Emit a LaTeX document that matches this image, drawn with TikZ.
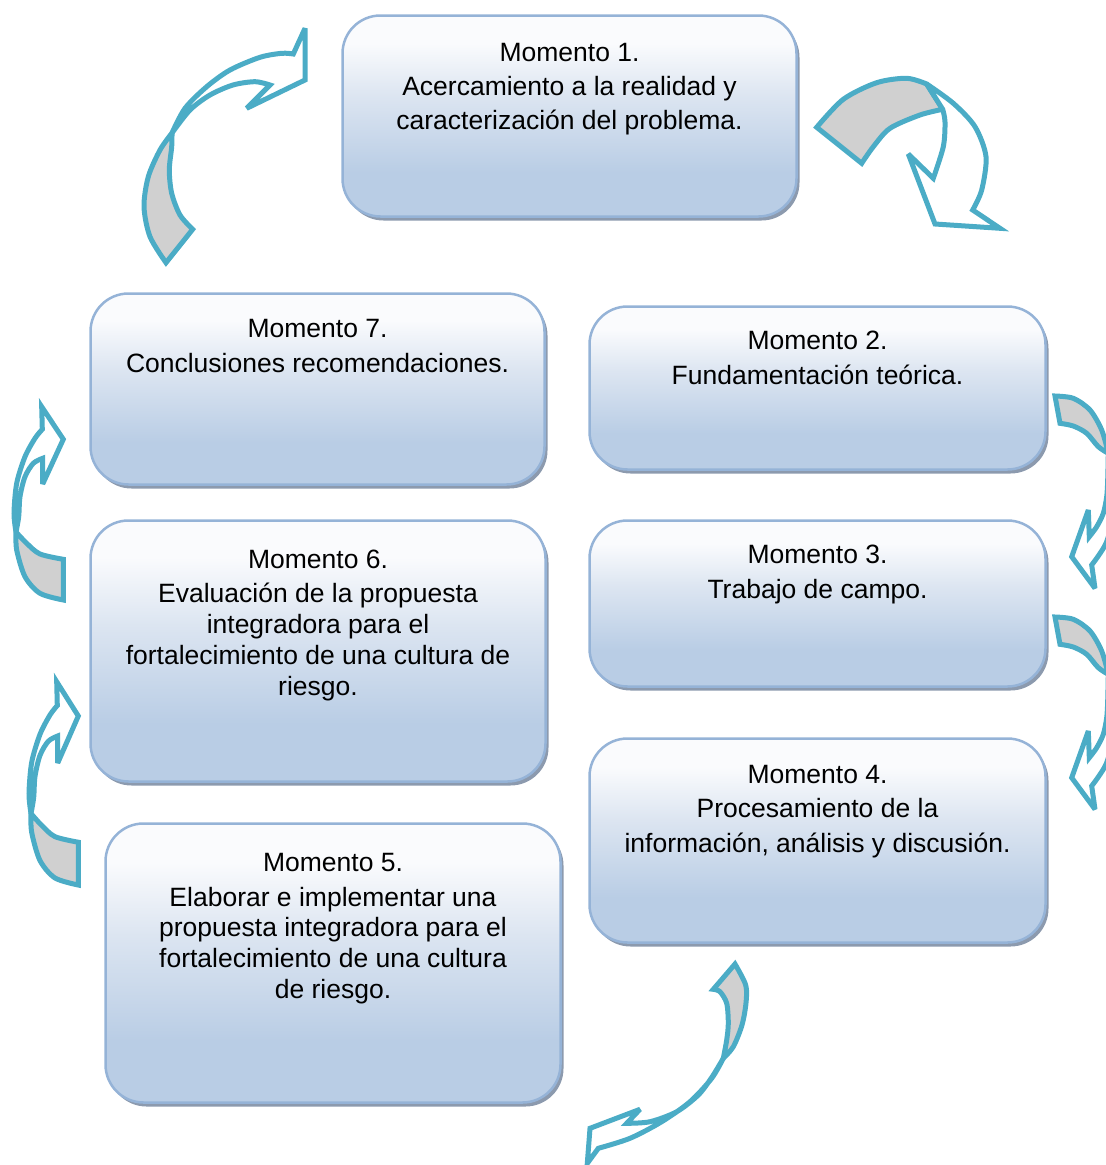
\documentclass[tikz,border=0pt]{standalone}
\usepackage{fontspec}
\setmainfont{Liberation Sans}
\usetikzlibrary{shadows}
\definecolor{arrowc}{HTML}{4BACC6}
\definecolor{grayc}{HTML}{D0D0D0}
\definecolor{boxborder}{HTML}{95B3D7}
\definecolor{boxtop}{HTML}{FAFBFD}
\definecolor{boxmid}{HTML}{DCE5F1}
\definecolor{boxbot}{HTML}{B9CDE5}
\definecolor{shadowc}{HTML}{8C9AAE}
\pgfdeclareverticalshading{boxshade}{100bp}{color(0bp)=(boxbot); color(25bp)=(boxbot); color(36bp)=(boxbot); color(55bp)=(boxmid); color(68bp)=(boxtop); color(100bp)=(boxtop)}
\tikzset{
  momentbox/.style={rounded corners=38pt, draw=boxborder, line width=2.5pt, shade, shading=boxshade,
    drop shadow={shadow xshift=3pt, shadow yshift=-4pt, fill=shadowc, opacity=1}, inner sep=0pt},
  momenttext/.style={align=center, inner sep=0pt, anchor=north, text=black,
    font=\fontsize{26.5pt}{30.7pt}\selectfont},
  ribbon/.style={draw=arrowc, line width=5pt, line join=miter, miter limit=4},
  backside/.style={ribbon, fill=grayc},
  frontside/.style={ribbon, fill=white},
}
\begin{document}
\begin{tikzpicture}[x=1pt, y=-1pt]
\useasboundingbox (0,0) rectangle (1106,1165);
\clip (0,0) rectangle (1106,1165);

% boxes
\node[momentbox, minimum width=454pt, minimum height=201pt] (m1) at (569.5,116) {};
\node[momentbox, minimum width=454pt, minimum height=191pt] (m7) at (317.5,389) {};
\node[momentbox, minimum width=456pt, minimum height=163pt] (m2) at (817.5,388) {};
\node[momentbox, minimum width=456pt, minimum height=166pt] (m3) at (817.5,603.5) {};
\node[momentbox, minimum width=456pt, minimum height=204pt] (m4) at (817.5,840.5) {};
\node[momentbox, minimum width=455pt, minimum height=261pt] (m6) at (318,651) {};
\node[momentbox, minimum width=455pt, minimum height=279pt] (m5) at (333,963) {};

% texts
\node[momenttext] (t1) at (569.5,43) {Momento 1.\\[3.5pt]Acercamiento a la realidad y\\[3.5pt]caracterización del problema.};
\node[momenttext] (t7) at (317.5,319) {Momento 7.\\[4pt]Conclusiones recomendaciones.};
\node[momenttext] (t2) at (817.5,331) {Momento 2.\\[4pt]Fundamentación teórica.};
\node[momenttext] (t3) at (817.5,545) {Momento 3.\\[4.5pt]Trabajo de campo.};
\node[momenttext] (t4) at (817.5,765) {Momento 4.\\[3.5pt]Procesamiento de la\\[4pt]información, análisis y discusión.};
\node[momenttext] (t6) at (318,550) {Momento 6.\\[3.5pt]Evaluación de la propuesta\\integradora para el\\fortalecimiento de una cultura de\\riesgo.};
\node[momenttext] (t5) at (333,853) {Momento 5.\\[4pt]Elaborar e implementar una\\propuesta integradora para el\\fortalecimiento de una cultura\\de riesgo.};

% arrow A (Momento 7 -> Momento 1)
\draw[backside] plot[smooth] coordinates {(192.7,229.3) (180,215) (171.7,193.3) (169.3,170) (171.7,146.7) (172,133)}
  -- plot[smooth] coordinates {(172,133) (160,150) (148.3,176.7) (144,206.7) (150,236.7) (166,262.7)} -- cycle;
\draw[frontside] plot[smooth] coordinates {(172,133) (185,108.3) (206.7,86.7) (230,70) (260,57.3) (281.7,53.3) (293.3,54)}
  -- (305,28.3) -- (305,80) -- (246.7,108.3) -- (270,85)
  -- plot[smooth] coordinates {(270,85) (255,81.7) (233,85) (210,95) (190,110) (172,133)} -- cycle;

% arrow B (Momento 1 -> Momento 2)
\draw[backside] plot[smooth] coordinates {(816.7,127.3) (843.3,99.3) (876.7,82.7) (906.7,78.3) (926.7,84)}
  -- (942.7,109.3)
  -- plot[smooth] coordinates {(942.7,109.3) (920,115) (890,128.3) (873.3,146.7) (861.7,163.3)} -- cycle;
\draw[frontside] plot[smooth] coordinates {(926.7,84) (953.3,103.3) (975,126.7) (986,156.7) (981.7,190) (972.7,210)}
  -- (1000,228.3) -- (935,224) -- (908.3,154) -- (933.3,178.3)
  -- plot[smooth] coordinates {(933.3,178.3) (943.3,146.7) (945,122) (942.7,109.3)} -- cycle;

% arrows C and D (Momento 2 -> 3, Momento 3 -> 4)
\foreach \dy in {0,221} {
\begin{scope}[yshift=-\dy pt]
\draw[backside] plot[smooth] coordinates {(1055,396) (1073.3,398.3) (1090,410) (1101.7,430) (1108.3,453.3)}
  -- plot[smooth] coordinates {(1108.3,453.3) (1098.3,446.7) (1086.7,433.3) (1073.3,426) (1060,423.3)} -- cycle;
\draw[frontside] plot[smooth] coordinates {(1108.3,453.3) (1115,478) (1113,515) (1106,543.3) (1091.7,565)}
  -- (1095,588.3) -- (1071.7,556.7) -- (1088.3,510) -- (1089.3,536.7)
  -- plot[smooth] coordinates {(1089.3,536.7) (1096.7,526.7) (1103.3,513.3) (1106.7,496.7) (1107.7,480) (1108.3,453.3)} -- cycle;
\end{scope}
}

% arrow G (Momento 4 -> Momento 5)
\draw[backside] plot[smooth] coordinates {(735,964) (745.7,985) (746,1003) (742,1025) (733.3,1046.7) (723.3,1058.3)}
  -- plot[smooth] coordinates {(723.3,1058.3) (726.7,1040) (728.3,1023.3) (726.7,1003.3) (720,991.7) (713.3,989.3)} -- cycle;
\draw[frontside] plot[smooth] coordinates {(723.3,1058.3) (711.7,1078.3) (690,1101.7) (661.7,1121.7) (630,1138.3) (598.3,1148.3)}
  -- (587.3,1163.3) -- (590,1128.3) -- (640,1109.3) -- (626.7,1123.3)
  -- plot[smooth] coordinates {(626.7,1123.3) (650,1121.7) (676.7,1111.7) (698.3,1095) (712,1077) (723.3,1058.3)} -- cycle;

% arrows E and F (Momento 5 -> 6, Momento 6 -> 7)
\foreach \sx/\sy/\sc in {0/0/1, 15/254/1.0517} {
\begin{scope}[shift={(\sx,\sy)}, yscale=\sc]
\draw[backside] plot[smooth] coordinates {(63.3,559.3) (40,554) (26.7,543.3) (16,532)}
  -- plot[smooth] coordinates {(16,532) (16.7,550) (25,576.7) (40,593.3) (63.3,600)} -- cycle;
\draw[frontside] plot[smooth] coordinates {(16,532) (14,513.3) (16.7,483.3) (25,456.7) (35,438.3) (42.3,429.3)}
  -- (41.7,406.7) -- (63.3,439.3) -- (42.7,484) -- (42.7,458.3)
  -- plot[smooth] coordinates {(42.7,458.3) (33.3,463.3) (25,476.7) (20,496.7) (18.7,516.7) (16,532)} -- cycle;
\end{scope}
}
\end{tikzpicture}
\end{document}
